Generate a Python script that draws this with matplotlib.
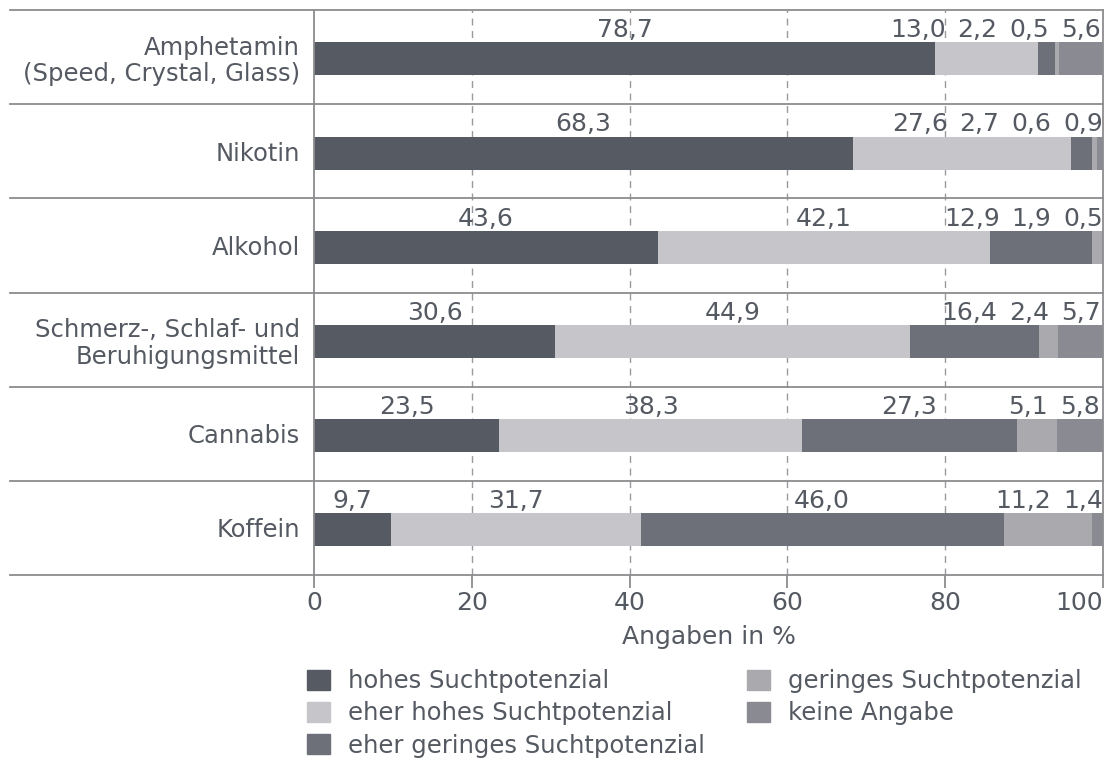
import matplotlib
matplotlib.use("Agg")
import matplotlib.pyplot as plt
from matplotlib.patches import Patch
import numpy as np

# categories from top to bottom
categories = ["Amphetamin\n(Speed, Crystal, Glass)", "Nikotin", "Alkohol",
              "Schmerz-, Schlaf- und\nBeruhigungsmittel", "Cannabis", "Koffein"]
series_names = ["hohes Suchtpotenzial", "eher hohes Suchtpotenzial",
                "eher geringes Suchtpotenzial", "geringes Suchtpotenzial", "keine Angabe"]
hohes = [78.7, 68.3, 43.6, 30.6, 23.5, 9.7]
eher_hohes = [13.0, 27.6, 42.1, 44.9, 38.3, 31.7]
eher_geringes = [2.2, 2.7, 12.9, 16.4, 27.3, 46.0]
geringes = [0.5, 0.6, 1.9, 2.4, 5.1, 11.2]
keine = [5.6, 0.9, 0.5, 5.7, 5.8, 1.4]
xticks = [0, 20, 40, 60, 80, 100]

colors = ["#565a63", "#c6c6ca", "#6e7079", "#a9a9ae", "#8a8b92"]
text_c = "#555a62"
line_c = "#8c8c90"

W, H = 1110, 760
fig = plt.figure(figsize=(W / 100, H / 100), dpi=100)
ax = fig.add_axes([314 / W, 1 - 575 / H, 789 / W, 565 / H])

series = [hohes, eher_hohes, eher_geringes, geringes, keine]
n = len(categories)
rows = np.arange(n)
ycent = n - rows - 0.52  # bar centre inside each row
bar_h = 0.35
left = np.zeros(n)
for vals, col, name in zip(series, colors, series_names):
    ax.barh(ycent, vals, left=left, height=bar_h, color=col, label=name, zorder=2)
    left += np.array(vals)

ax.set_xlim(0, 100)
ax.set_ylim(0, n)

# value labels: centred on their segment, pushed left where they would collide
renderer = fig.canvas.get_renderer()
px_per_unit = ax.get_window_extent(renderer).width / 100
gap = 12 / px_per_unit
for i in range(n):
    vals = [s[i] for s in series]
    starts = np.concatenate([[0], np.cumsum(vals)[:-1]])
    centres = starts + np.array(vals) / 2
    texts = [ax.text(c, ycent[i] + bar_h / 2 + 0.055, f"{v:.1f}".replace(".", ","),
                     ha="center", va="baseline", fontsize=18, color=text_c)
             for v, c in zip(vals, centres)]
    widths = [t.get_window_extent(renderer).width / px_per_unit for t in texts]
    limit = 100.0
    for k in range(len(texts) - 1, -1, -1):
        right = min(centres[k] + widths[k] / 2, limit)
        texts[k].set_x(right - widths[k] / 2)
        limit = right - widths[k] - gap

ax.set_yticks(ycent + 0.02)
ax.set_yticklabels(categories, fontsize=17.5, color=text_c, linespacing=1.15)
ax.tick_params(axis="y", length=0, pad=10)
ax.set_xticks(xticks)
xl = ax.set_xticklabels([str(t) for t in xticks], fontsize=18, color=text_c)
xl[-1].set_horizontalalignment("right")
ax.tick_params(axis="x", direction="out", length=9.5, color=line_c, width=1.3, pad=2)

for x in xticks[1:-1]:
    ax.axvline(x, color="#9a9a9e", linestyle=(0, (5, 4)), linewidth=1.0, zorder=1)

for side in ["left", "right", "top", "bottom"]:
    ax.spines[side].set_color(line_c)
    ax.spines[side].set_linewidth(1.3)
ax.spines["top"].set_visible(False)
ax.spines["bottom"].set_visible(False)

# row separators run out under the category labels
for b in range(n + 1):
    ax.axhline(b, xmin=-0.385, xmax=1, color=line_c, linewidth=1.3, clip_on=False, zorder=3)

ax.set_xlabel("Angaben in %", fontsize=18, color=text_c, labelpad=7)

handles = [Patch(color=c) for c in colors]
fig.legend(handles, series_names, loc="upper left", bbox_to_anchor=(307 / W, 1 - 669 / H),
           ncol=2, frameon=False, prop={"size": 17.5},
           handlelength=0.93, handleheight=0.9, handletextpad=0.75,
           columnspacing=1.75, labelspacing=0.34, borderaxespad=0, borderpad=0,
           labelcolor=text_c)

fig.savefig("out.png", dpi=100)
